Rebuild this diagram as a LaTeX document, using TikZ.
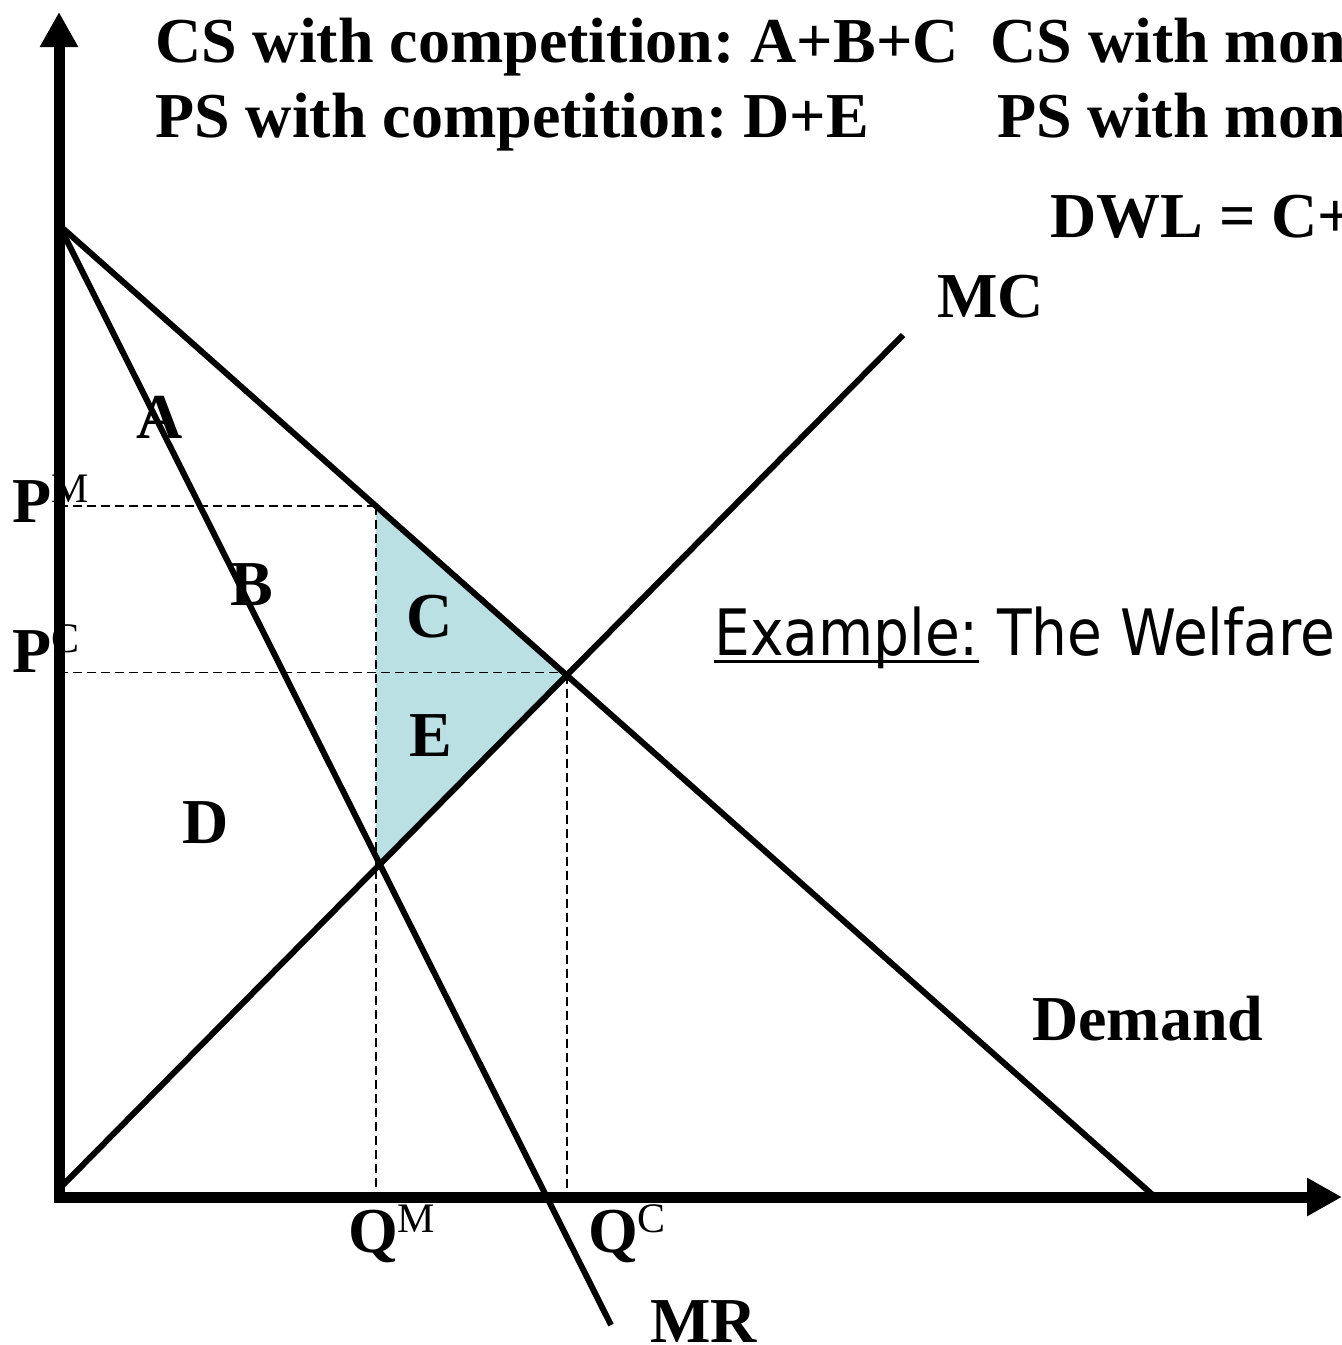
\documentclass[tikz,border=0pt]{standalone}
\usepackage{fontspec}
\setmainfont{Liberation Serif}
\newfontfamily\exfont[FakeStretch=0.885]{DejaVu Sans}
\usetikzlibrary{arrows.meta,calc}
\frenchspacing
\newcommand\supr[1]{\raisebox{20pt}{\fontsize{42}{42}\selectfont\mdseries #1}}
\newcommand\thickul[1]{{\setbox0\hbox{#1}\rlap{\rule[-8pt]{\wd0}{3.5pt}}\box0}}
\begin{document}
\begin{tikzpicture}[x=1pt,y=-1pt,
  axis/.style={line width=11pt,-{Triangle[length=35pt,width=36pt]}},
  curve/.style={line width=6pt},
  guide/.style={line width=1.5pt,dash pattern=on 9pt off 5pt},
  lbl/.style={inner sep=0pt,font=\fontsize{64}{64}\selectfont\bfseries},
  area/.style={fill={rgb,255:red,186;green,224;blue,227}}]
\useasboundingbox (0,0) rectangle (1342,1345);
\clip (0,0) rectangle (1342,1345);
\fill[white] (0,0) rectangle (1342,1345);
% key points
\coordinate (O) at (59,1197);
\coordinate (MC0) at (62,1186);
\coordinate (D0) at (59,225);
\coordinate (D1) at (1155,1197);
\coordinate (MR1) at (611,1325);
\coordinate (MC1) at (903,335);
\coordinate (Qa) at (376,0);
\coordinate (Qb) at (376,1300);
\coordinate (Ec) at (intersection of D0--D1 and MC0--MC1);
\coordinate (Em) at (intersection of Qa--Qb and MC0--MC1);
\coordinate (Pm) at (intersection of D0--D1 and Qa--Qb);
\coordinate (PmAx) at (O |- Pm);
\coordinate (PcAx) at ($(O |- Ec)+(0,-3)$);
\coordinate (EcL) at ($(Ec)+(0,-3)$);
\coordinate (QmAx) at (Pm |- O);
\coordinate (QcAx) at (Ec |- O);
% shaded DWL triangle
\fill[area] (Pm) -- (Ec) -- (Em) -- cycle;
% guides
\draw[guide] (PmAx) -- (Pm);
\draw[guide] (Pm) -- (QmAx);
\draw[guide] (PcAx) -- (EcL);
\draw[guide] (Ec) -- (QcAx);
% curves
\draw[curve] (D0) -- (D1);
\draw[curve] (D0) -- (MR1);
\draw[curve] (MC0) -- (MC1);
% axes
\draw[axis] (59,1202) -- (59,12);
\draw[axis] (54,1197) -- (1342,1197);
% header texts
\node[lbl,anchor=base west] (cs1) at (155,62) {CS with competition: A+B+C};
\node[lbl,anchor=base west] (cs2) at (990,62) {CS with mon};
\node[lbl,anchor=base west] (ps1) at (155,137) {PS with competition: D+E};
\node[lbl,anchor=base west] (ps2) at (997,137) {PS with mon};
\node[lbl,anchor=base west] (dwl) at (1050,237) {DWL = C+};
% curve labels
\node[lbl,anchor=base west] (mc) at (937,317) {MC};
\node[lbl,anchor=base west] (dem) at (1032,1040) {Demand};
\node[lbl,anchor=base west] (mr) at (650,1342) {MR};
% area labels
\node[lbl,anchor=base] (la) at (160,438) {A};
\node[lbl,anchor=base] (lb) at (252,605) {B};
\node[lbl,anchor=base] (lc) at (430,637) {C};
\node[lbl,anchor=base] (le) at (431,756) {E};
\node[lbl,anchor=base] (ld) at (206,843) {D};
% axis labels
\node[lbl,anchor=base west] (pm) at (12,522) {P\supr{M}};
\node[lbl,anchor=base west] (pc) at (12,672) {P\supr{C}};
\node[lbl,anchor=base west] (qm) at (348,1252) {Q\supr{M}};
\node[lbl,anchor=base west] (qc) at (588,1252) {Q\supr{C}};
% example
\node[inner sep=0pt,anchor=base west,font=\exfont\fontsize{64}{64}\selectfont] (ex) at (714,655) {\thickul{Example:} The Welfare};
\end{tikzpicture}
\end{document}
